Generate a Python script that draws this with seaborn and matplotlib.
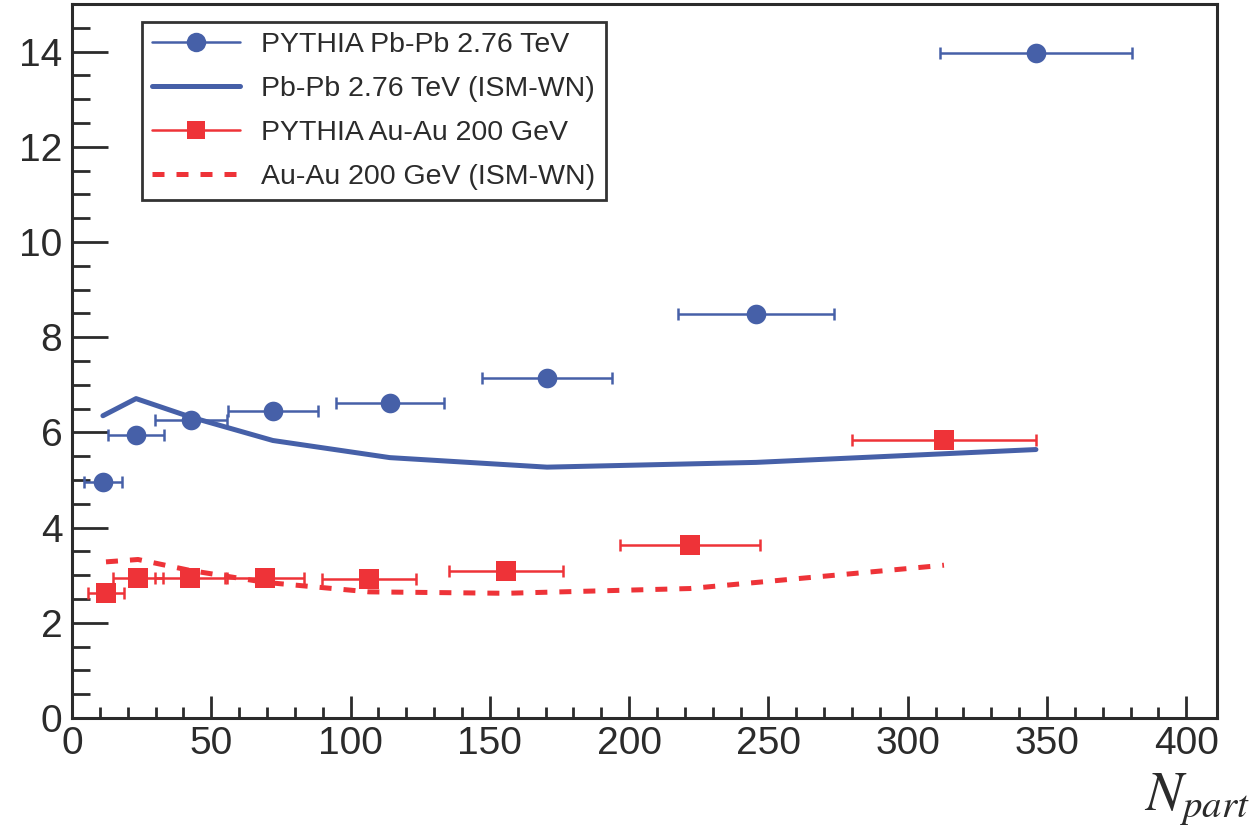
import matplotlib
matplotlib.use("Agg")
import matplotlib.pyplot as plt
from matplotlib.lines import Line2D
from matplotlib.ticker import MultipleLocator, FixedLocator
import seaborn as sns
import pandas as pd

# PYTHIA Pb-Pb 2.76 TeV
pbpb_npart = [11.1, 23.0, 42.7, 72.1, 114.1, 170.5, 245.5, 346.0]
pbpb_val = [4.95, 5.95, 6.27, 6.44, 6.62, 7.15, 8.49, 13.98]
pbpb_xerr = [6.7, 10.0, 13.0, 16.2, 19.4, 23.2, 28.0, 34.6]
# ISM-WN Pb-Pb 2.76 TeV
pbpb_ism = [6.35, 6.71, 6.32, 5.83, 5.47, 5.27, 5.37, 5.64]

# PYTHIA Au-Au 200 GeV
auau_npart = [12.2, 23.7, 42.4, 69.3, 106.6, 155.8, 221.8, 313.0]
auau_val = [2.62, 2.94, 2.95, 2.94, 2.92, 3.08, 3.63, 5.83]
auau_xerr = [6.6, 9.0, 12.5, 13.8, 17.0, 20.5, 25.0, 33.0]
# ISM-WN Au-Au 200 GeV
auau_ism = [3.28, 3.33, 3.10, 2.85, 2.65, 2.62, 2.72, 3.21]

labels = ["PYTHIA Pb-Pb 2.76 TeV", "Pb-Pb 2.76 TeV (ISM-WN)",
          "PYTHIA Au-Au 200 GeV", "Au-Au 200 GeV (ISM-WN)"]

BLUE = "#4660a8"
RED = "#ee3338"
AXC = "#2b2b2b"
DASH = [2.4, 2.4]

sns.set_theme(style="white")
plt.rcParams["font.family"] = ["Liberation Sans", "DejaVu Sans"]
plt.rcParams["mathtext.fontset"] = "stix"

fig = plt.figure(figsize=(12.54, 8.32), dpi=100)
ax = fig.add_axes([72 / 1254, 1 - 718 / 832, (1217 - 72) / 1254, (718 - 4) / 832])

pb = pd.DataFrame({"npart": pbpb_npart, "val": pbpb_val, "ism": pbpb_ism})
au = pd.DataFrame({"npart": auau_npart, "val": auau_val, "ism": auau_ism})

# model curves
sns.lineplot(data=pb, x="npart", y="ism", ax=ax, color=BLUE, lw=3.6,
             estimator=None, sort=False, zorder=2)
sns.lineplot(data=au, x="npart", y="ism", ax=ax, color=RED, lw=3.6,
             estimator=None, sort=False, zorder=2)
ax.lines[-1].set_dashes(DASH)

# horizontal error bars of the PYTHIA points
ax.errorbar(pbpb_npart, pbpb_val, xerr=pbpb_xerr, fmt="none", ecolor=BLUE,
            elinewidth=1.8, capsize=4, capthick=1.8, zorder=3)
ax.errorbar(auau_npart, auau_val, xerr=auau_xerr, fmt="none", ecolor=RED,
            elinewidth=1.8, capsize=4, capthick=1.8, zorder=3)

sns.scatterplot(data=pb, x="npart", y="val", ax=ax, color=BLUE, marker="o",
                s=200, linewidth=0, zorder=4)
sns.scatterplot(data=au, x="npart", y="val", ax=ax, color=RED, marker="s",
                s=190, linewidth=0, zorder=4)

ax.set_xlim(0, 411)
ax.set_ylim(0, 15)
ax.set_xlabel("")
ax.set_ylabel("")

ax.xaxis.set_major_locator(FixedLocator(range(0, 401, 50)))
ax.xaxis.set_minor_locator(FixedLocator(range(0, 401, 10)))
ax.yaxis.set_major_locator(MultipleLocator(2))
ax.yaxis.set_minor_locator(MultipleLocator(0.5))

ax.tick_params(axis="both", which="both", direction="in", color=AXC,
               labelcolor=AXC, labelsize=28, top=False, right=False,
               bottom=True, left=True)
ax.tick_params(axis="y", which="major", length=26, width=2, pad=7)
ax.tick_params(axis="y", which="minor", length=13, width=2)
ax.tick_params(axis="x", which="major", length=16, width=2, pad=6)
ax.tick_params(axis="x", which="minor", length=8, width=2)
for s in ax.spines.values():
    s.set_color(AXC)
    s.set_linewidth(2.2)

fig.text(0.997, 0.005, r"$N_{part}$", ha="right", va="bottom",
         fontsize=40, color=AXC)

handles = [
    Line2D([], [], color=BLUE, lw=1.8, marker="o", ms=14, mew=0),
    Line2D([], [], color=BLUE, lw=3.6),
    Line2D([], [], color=RED, lw=1.8, marker="s", ms=13, mew=0),
    Line2D([], [], color=RED, lw=3.6, dashes=DASH),
]
leg = ax.legend(handles, labels, loc="upper left",
                bbox_to_anchor=(0.061, 0.975), borderaxespad=0,
                fontsize=20.5, frameon=True, fancybox=False, handlelength=3.1,
                handletextpad=0.75, labelspacing=0.63, borderpad=0.35,
                edgecolor="black")
leg.get_frame().set_linewidth(2)
for t in leg.get_texts():
    t.set_color(AXC)

fig.savefig("out.png", dpi=100)
